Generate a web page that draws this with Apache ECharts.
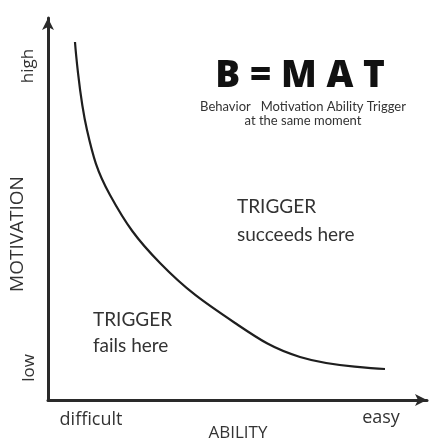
<!DOCTYPE html>
<html>
<head>
<meta charset="utf-8">
<script src="https://cdn.jsdelivr.net/npm/echarts@6/dist/echarts.min.js"></script>
<style>html,body{margin:0;padding:0;background:#fff}#c{width:434px;height:442px}</style>
</head>
<body>
<div id="c"></div>
<script>
// Curve: ability (x, 0..100) vs motivation (y, 0..100)
const abilityValues = [7.12, 10.29, 16.36, 29.55, 49.34, 66.49, 88.92];
const motivationValues = [93.72, 70.68, 53.66, 35.86, 20.16, 11.26, 8.12];
const xTickLabels = ['difficult', 'easy'];
const yTickLabels = ['low', 'high'];
const axisNames = ['ABILITY', 'MOTIVATION'];
const formulaText = 'B = M A T';
const formulaSub = ['Behavior   Motivation Ability Trigger', 'at the same moment'];
const regionLabels = [['TRIGGER', 'succeeds here'], ['TRIGGER', 'fails here']];

const FONT = '"Open Sans", Lato, sans-serif';
const LATO = 'Lato, "Open Sans", sans-serif';
const TXT = '#333';
const chart = echarts.init(document.getElementById('c'), null, {renderer: 'canvas'});
const curve = abilityValues.map((x, i) => [x, motivationValues[i]]);

chart.setOption({
  animation: false,
  backgroundColor: '#fff',
  grid: {left: 48, right: 7, top: 18, bottom: 42},
  xAxis: {
    type: 'value', min: 0, max: 100,
    axisLine: {show: true, symbol: ['none', 'arrow'], symbolSize: [9, 12], lineStyle: {color: '#2a2a2a', width: 3}},
    axisTick: {show: false}, axisLabel: {show: false}, splitLine: {show: false}
  },
  yAxis: {
    type: 'value', min: 0, max: 100,
    axisLine: {show: true, symbol: ['none', 'arrow'], symbolSize: [9, 12], lineStyle: {color: '#2a2a2a', width: 3}},
    axisTick: {show: false}, axisLabel: {show: false}, splitLine: {show: false}
  },
  series: [{
    type: 'line', data: curve, smooth: 0.4, showSymbol: false,
    lineStyle: {color: '#1e1e1e', width: 2.2}
  }],
  graphic: [
    {type: 'text', x: 91, y: 420, style: {text: xTickLabels[0], font: '18px ' + FONT, fill: TXT, align: 'center', verticalAlign: 'middle'}},
    {type: 'text', x: 381, y: 418, style: {text: xTickLabels[1], font: '18px ' + FONT, fill: TXT, align: 'center', verticalAlign: 'middle'}},
    {type: 'text', x: 238, y: 433, style: {text: axisNames[0], font: '17px ' + FONT, fill: TXT, align: 'center', verticalAlign: 'middle'}},
    {type: 'text', x: 29, y: 368, rotation: Math.PI / 2, style: {text: yTickLabels[0], font: '17px ' + FONT, fill: TXT, align: 'center', verticalAlign: 'middle'}},
    {type: 'text', x: 28, y: 66, rotation: Math.PI / 2, style: {text: yTickLabels[1], font: '17px ' + FONT, fill: TXT, align: 'center', verticalAlign: 'middle'}},
    {type: 'text', x: 18, y: 234, rotation: Math.PI / 2, style: {text: axisNames[1], font: '19px ' + FONT, fill: TXT, align: 'center', verticalAlign: 'middle'}},
    {type: 'text', x: 300, y: 76, style: {text: formulaText, font: '800 37px ' + FONT, fill: '#111', align: 'center', verticalAlign: 'middle'}},
    {type: 'text', x: 303, y: 107, style: {text: formulaSub[0], font: '13px ' + LATO, fill: TXT, align: 'center', verticalAlign: 'middle'}},
    {type: 'text', x: 303, y: 121, style: {text: formulaSub[1], font: '13px ' + LATO, fill: TXT, align: 'center', verticalAlign: 'middle'}},
    {type: 'text', x: 237, y: 207, style: {text: regionLabels[0][0], font: '19px ' + LATO, fill: TXT, verticalAlign: 'middle'}},
    {type: 'text', x: 237, y: 235, style: {text: regionLabels[0][1], font: '19px ' + LATO, fill: TXT, verticalAlign: 'middle'}},
    {type: 'text', x: 93, y: 320, style: {text: regionLabels[1][0], font: '19px ' + LATO, fill: TXT, verticalAlign: 'middle'}},
    {type: 'text', x: 93, y: 346, style: {text: regionLabels[1][1], font: '19px ' + LATO, fill: TXT, verticalAlign: 'middle'}}
  ]
});
</script>
</body>
</html>
